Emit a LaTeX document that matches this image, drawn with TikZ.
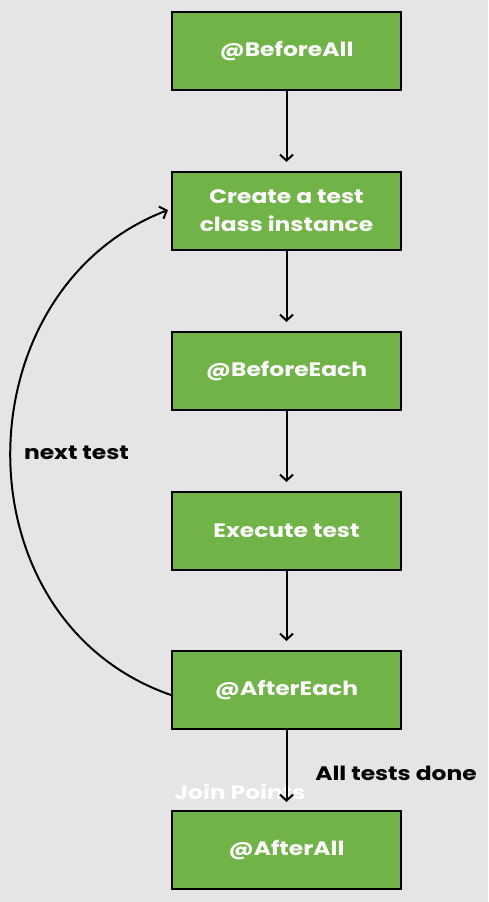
\documentclass[tikz,border=0pt]{standalone}
\usepackage{fontspec}
\setmainfont{Poppins}[FakeStretch=1.2]
\usetikzlibrary{arrows.meta}
\definecolor{bg}{HTML}{E5E5E5}
\definecolor{boxgreen}{HTML}{70B347}
\begin{document}
\begin{tikzpicture}[x=1pt,y=-1pt,
  stepbox/.style={draw=black,line width=2pt,fill=boxgreen,minimum width=229pt,minimum height=78pt,
    text=white,font=\fontsize{19.5}{28}\selectfont\bfseries,align=center,inner sep=0pt},
  flow/.style={draw=black,line width=2pt,-{Straight Barb[length=6pt,width=13pt,line width=2pt]}},
  lbl/.style={font=\fontsize{19.5}{24}\selectfont\bfseries,inner sep=0pt}]
\fill[bg] (0,0) rectangle (488,902);
\useasboundingbox (0,0) rectangle (488,902);
\node[stepbox] (ba) at (286.5,51) {@BeforeAll};
\node[stepbox] (ci) at (286.5,211) {Create a test\\class instance};
\node[stepbox] (be) at (286.5,371) {@BeforeEach};
\node[stepbox] (ex) at (286.5,531) {Execute test};
\node[stepbox] (ae) at (286.5,690) {@AfterEach};
\node[stepbox] (aa) at (286.5,850) {@AfterAll};
\node[lbl,text=white] (jp) at (240,792) {Join Points};
\node[lbl,text=black] (nt) at (76.5,453) {next test};
\node[lbl,text=black] (atd) at (396,773) {All tests done};
\draw[flow] (ba) -- ([yshift=9pt]ci.north);
\draw[flow] (ci) -- ([yshift=9pt]be.north);
\draw[flow] (be) -- ([yshift=9pt]ex.north);
\draw[flow] (ex) -- ([yshift=9pt]ae.north);
\draw[flow] (ae) -- ([yshift=8pt]aa.north);
\draw[flow] ([yshift=-5pt]ae.west) .. controls (-45,620) and (-40,290) .. ([xshift=-3pt,yshift=1pt]ci.west);
\end{tikzpicture}
\end{document}
